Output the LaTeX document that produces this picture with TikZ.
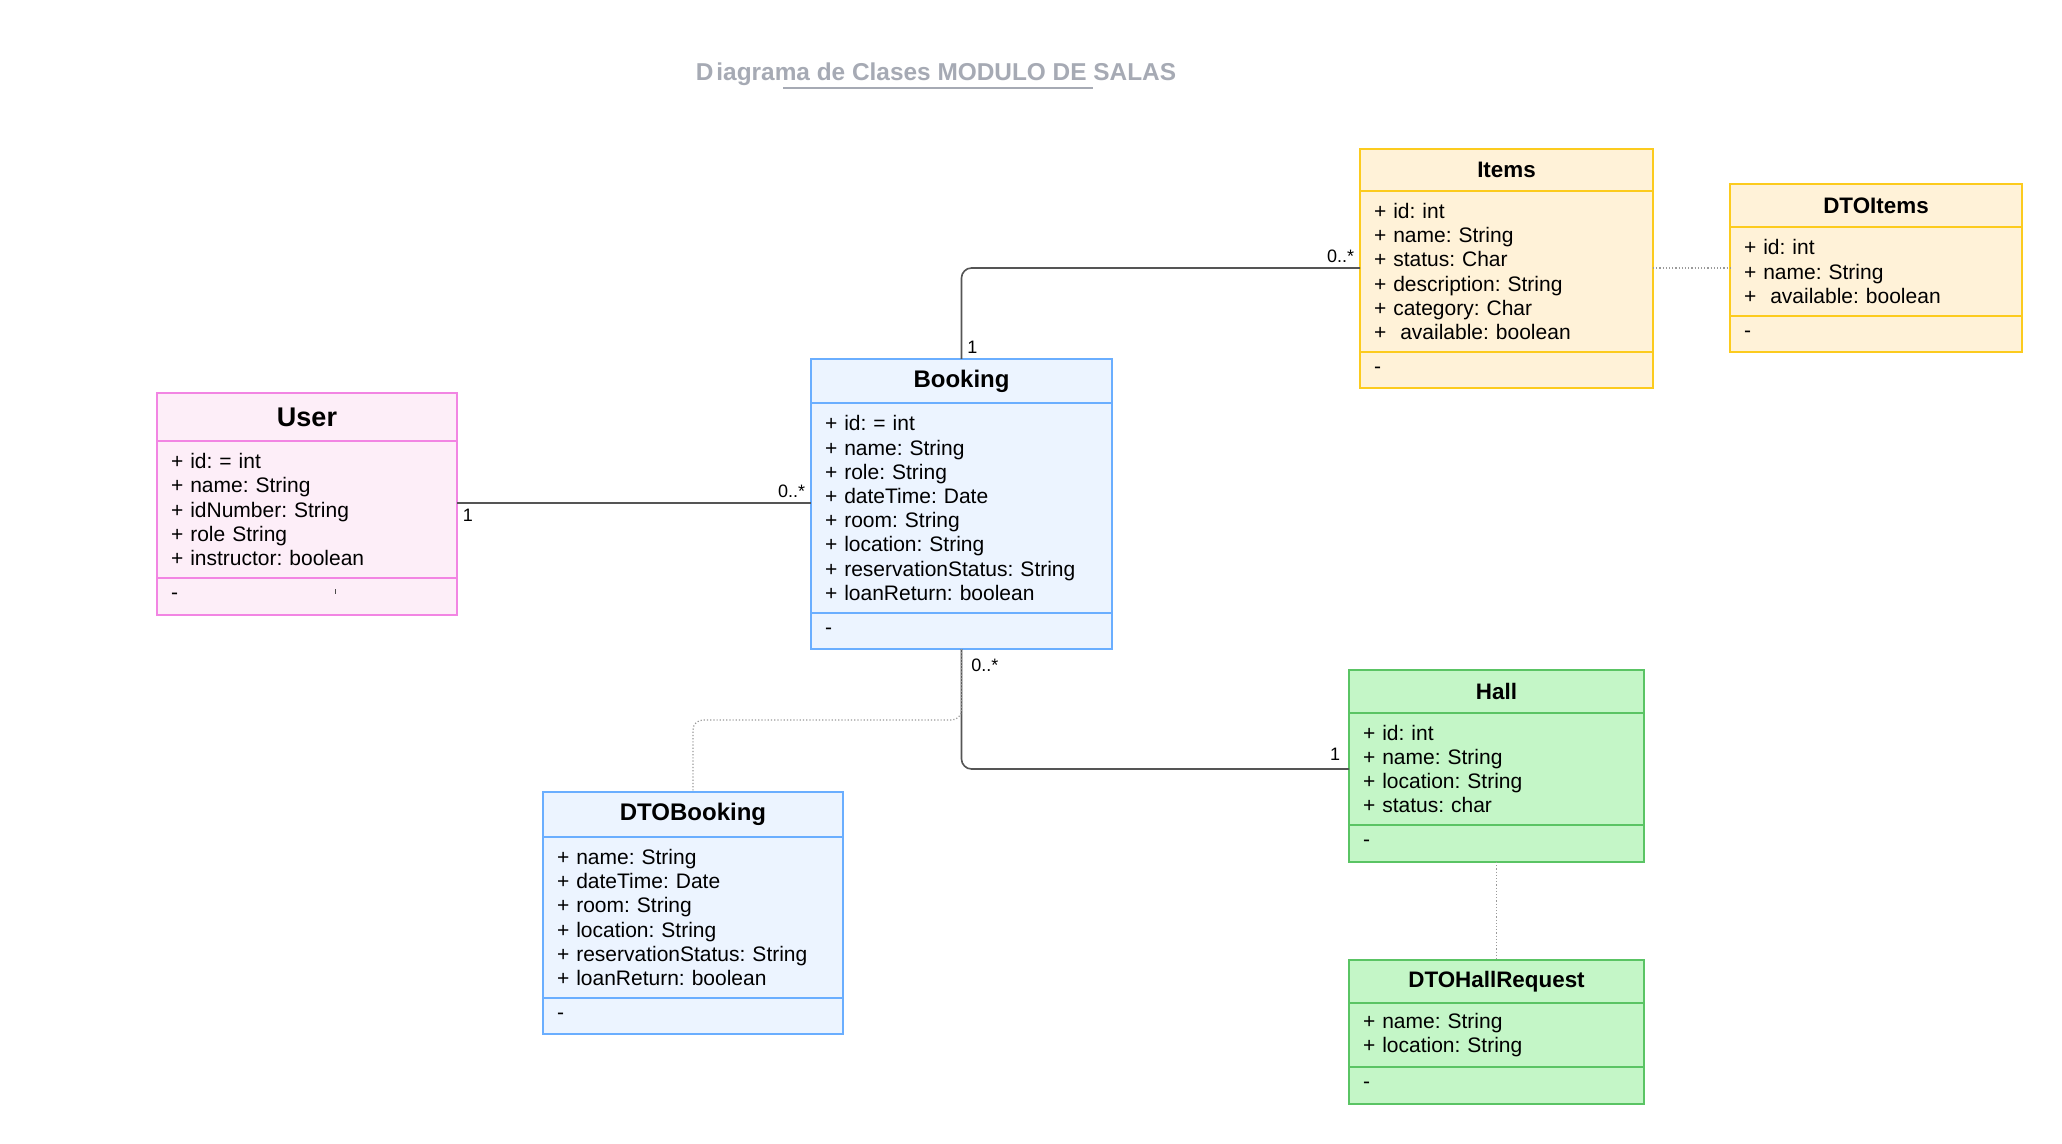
\documentclass[tikz,border=0pt]{standalone}
\usepackage{fontspec}
\setmainfont{Liberation Sans}
\frenchspacing
\usetikzlibrary{positioning}
\definecolor{userdraw}{HTML}{F285E3}
\definecolor{userfill}{HTML}{FDEEF8}
\definecolor{bookdraw}{HTML}{6AAEFF}
\definecolor{bookfill}{HTML}{ECF4FF}
\definecolor{itemdraw}{HTML}{FCCB1E}
\definecolor{itemfill}{HTML}{FFF2D8}
\definecolor{halldraw}{HTML}{5AC464}
\definecolor{hallfill}{HTML}{C4F6C7}
\definecolor{linegray}{HTML}{555555}
\definecolor{dotgray}{HTML}{9A9A9A}
\definecolor{ttlgray}{HTML}{A6AAB4}
\tikzstyle{head}=[rectangle,outer sep=0pt,inner sep=0pt,font=\bfseries\fontsize{11.2}{13}\selectfont]
\tikzstyle{body}=[rectangle,outer sep=0pt,inner xsep=7pt,inner ysep=0pt,align=left,
  font=\fontsize{10.5}{12.1}\selectfont]

\begin{document}
\begin{tikzpicture}[x=0.5pt,y=-0.5pt]
  \tikzstyle{userbox}=[draw=userdraw,fill=userfill,line width=1pt]
  \tikzstyle{bookbox}=[draw=bookdraw,fill=bookfill,line width=1.4pt]
  \tikzstyle{itembox}=[draw=itemdraw,fill=itemfill,line width=1.3pt]
  \tikzstyle{hallbox}=[draw=halldraw,fill=hallfill,line width=1.2pt]
  \tikzstyle{assoc}=[draw=linegray,line width=0.8pt,rounded corners=5pt]
  \tikzstyle{dep}=[draw=dotgray,densely dotted,line width=0.6pt,rounded corners=5pt]
  \tikzstyle{mult}=[font=\fontsize{9}{10}\selectfont,inner sep=2.5pt]

  \fill[white] (0,0) rectangle (2062,1144);
  \useasboundingbox (0,0) rectangle (2062,1144);

  \node[anchor=base,text=ttlgray,font=\bfseries\fontsize{12.2}{14}\selectfont] (title) at (936,81)
    {D\kern1.5pt iagrama de Clases MODULO DE SALAS};
  \draw[ttlgray,line width=1pt] (783,88) -- (1093,88);

  % User
  \node[head,userbox,minimum width=150pt,minimum height=24pt,font=\bfseries\fontsize{13.5}{15}\selectfont] (usrHead) at (307,417) {User};
  \node[body,userbox,below=0pt of usrHead,minimum width=150pt,minimum height=68.5pt,text width=136pt] (usrAttr)
    {+ id: = int\\+ name: String\\+ idNumber: String\\+ role String\\+ instructor: boolean};
  \node[body,userbox,below=0pt of usrAttr,minimum width=150pt,minimum height=18.5pt,text width=136pt] (usrMeth) {-};
  \draw[black!70,line width=0.5pt] (335,589) -- (335,594);

  % Booking
  \node[head,bookbox,minimum width=150.5pt,minimum height=22pt,font=\bfseries\fontsize{12}{14}\selectfont] (bkHead) at (961.5,381) {Booking};
  \node[body,bookbox,below=0pt of bkHead,minimum width=150.5pt,minimum height=105pt,text width=136.5pt] (bkAttr)
    {+ id: = int\\+ name: String\\+ role: String\\+ dateTime: Date\\+ room: String\\+ location: String\\+ reservationStatus: String\\+ loanReturn: boolean};
  \node[body,bookbox,below=0pt of bkAttr,minimum width=150.5pt,minimum height=18pt,text width=136.5pt] (bkMeth) {-};

  % Items
  \node[head,itembox,minimum width=146.5pt,minimum height=21pt] (itHead) at (1506.5,170) {Items};
  \node[body,itembox,below=0pt of itHead,minimum width=146.5pt,minimum height=80.5pt,text width=132.5pt] (itAttr)
    {+ id: int\\+ name: String\\+ status: Char\\+ description: String\\+ category: Char\\+\ \ available: boolean};
  \node[body,itembox,below=0pt of itAttr,minimum width=146.5pt,minimum height=18pt,text width=132.5pt] (itMeth) {-};

  % DTOItems
  \node[head,itembox,minimum width=146pt,minimum height=21.5pt] (diHead) at (1876,205.5) {DTOItems};
  \node[body,itembox,below=0pt of diHead,minimum width=146pt,minimum height=44.5pt,text width=132pt] (diAttr)
    {+ id: int\\+ name: String\\+\ \ available: boolean};
  \node[body,itembox,below=0pt of diAttr,minimum width=146pt,minimum height=18pt,text width=132pt] (diMeth) {-};

  % DTOBooking
  \node[head,bookbox,minimum width=150pt,minimum height=22.5pt,font=\bfseries\fontsize{12}{14}\selectfont] (dbHead) at (693,814.5) {DTOBooking};
  \node[body,bookbox,below=0pt of dbHead,minimum width=150pt,minimum height=80.5pt,text width=136pt] (dbAttr)
    {+ name: String\\+ dateTime: Date\\+ room: String\\+ location: String\\+ reservationStatus: String\\+ loanReturn: boolean};
  \node[body,bookbox,below=0pt of dbAttr,minimum width=150pt,minimum height=18pt,text width=136pt] (dbMeth) {-};

  % Hall
  \node[head,hallbox,minimum width=147.5pt,minimum height=21.5pt] (hlHead) at (1496.5,691.5) {Hall};
  \node[body,hallbox,below=0pt of hlHead,minimum width=147.5pt,minimum height=56pt,text width=133.5pt] (hlAttr)
    {+ id: int\\+ name: String\\+ location: String\\+ status: char};
  \node[body,hallbox,below=0pt of hlAttr,minimum width=147.5pt,minimum height=18.5pt,text width=133.5pt] (hlMeth) {-};

  % DTOHallRequest
  \node[head,hallbox,minimum width=147.5pt,minimum height=21.5pt] (dhHead) at (1496.5,981.5) {DTOHallRequest};
  \node[body,hallbox,below=0pt of dhHead,minimum width=147.5pt,minimum height=32pt,text width=133.5pt] (dhAttr)
    {+ name: String\\+ location: String};
  \node[body,hallbox,below=0pt of dhAttr,minimum width=147.5pt,minimum height=18.5pt,text width=133.5pt] (dhMeth) {-};

  % associations
  \draw[assoc] ([yshift=3.25pt]usrAttr.east) -- ([yshift=3.25pt]usrAttr.east -| bkAttr.west)
    node[mult,pos=0,below right]{1} node[mult,pos=1,above left]{0..*};
  \draw[assoc] (bkHead.north) |- ([yshift=1.75pt]itAttr.west)
    node[mult,pos=0,above right]{1} node[mult,pos=1,above left]{0..*};
  \draw[assoc] (bkMeth.south) |- (hlAttr.west)
    node[mult,pos=0,below right,inner sep=4.5pt]{0..*} node[mult,pos=1,above left,inner sep=4pt]{1};

  % dto links
  \coordinate[below=35.5pt of bkMeth.south] (dtoBend);
  \draw[dep] (bkMeth.south) -- (dtoBend) -| (dbHead.north);
  \draw[dep] ([yshift=1.75pt]itAttr.east) -- ([yshift=1.75pt]diAttr.west);
  \draw[dep] (hlMeth.south) -- (dhHead.north);
\end{tikzpicture}
\end{document}
